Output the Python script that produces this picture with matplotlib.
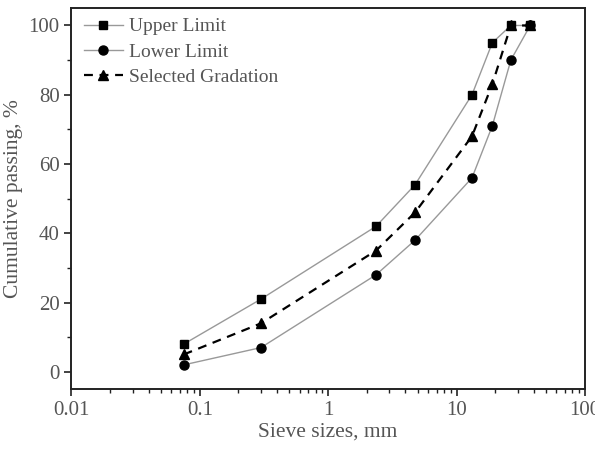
import matplotlib
matplotlib.use("Agg")
from matplotlib import pyplot as plt
from matplotlib.ticker import LogLocator, MultipleLocator, FixedLocator, FixedFormatter

# Sieve sizes (mm) and cumulative passing (%)
sieveSizes = [0.075, 0.3, 2.36, 4.75, 13.2, 19, 26.5, 37.5]
upperLimit = [8, 21, 42, 54, 80, 95, 100, 100]
lowerLimit = [2, 7, 28, 38, 56, 71, 90, 100]
selectedGradation = [5, 14, 35, 46, 68, 83, 100, 100]

xTicks = [0.01, 0.1, 1, 10, 100]
xTickLabels = ["0.01", "0.1", "1", "10", "100"]

textColor = "#555555"

plt.rcParams['font.family'] = ['Liberation Serif', 'DejaVu Serif']

fig = plt.figure(figsize=(5.95, 4.53), dpi=100)
ax = fig.add_axes([0.120, 0.141, 0.863, 0.841])

ax.plot(sieveSizes, upperLimit, color='#999999', linewidth=1,
        marker='s', markersize=6, markerfacecolor='k', markeredgecolor='k',
        label='Upper Limit')
ax.plot(sieveSizes, lowerLimit, color='#999999', linewidth=1,
        marker='o', markersize=6.5, markerfacecolor='k', markeredgecolor='k',
        label='Lower Limit')
ax.plot(sieveSizes, selectedGradation, color='k', linewidth=1.6, linestyle=(0, (4, 3)),
        marker='^', markersize=7, markerfacecolor='k', markeredgecolor='k',
        label='Selected Gradation')

ax.set_xscale('log')
ax.set_xlim(0.01, 100)
ax.set_ylim(-5, 105)

ax.xaxis.set_major_locator(FixedLocator(xTicks))
ax.xaxis.set_major_formatter(FixedFormatter(xTickLabels))

ax.tick_params(which='major', direction='out', length=5, width=1.2,
               labelsize=15, labelcolor=textColor, color='#222222')
ax.tick_params(which='minor', direction='out', length=3, width=1, color='#222222')
ax.minorticks_on()
ax.xaxis.set_minor_locator(LogLocator(base=10, subs=range(2, 10)))
ax.yaxis.set_major_locator(MultipleLocator(20))
ax.yaxis.set_minor_locator(MultipleLocator(10))

for s in ax.spines.values():
    s.set_linewidth(1.4)
    s.set_color('#222222')

ax.set_xlabel("Sieve sizes, mm", fontsize=15.5, color=textColor, labelpad=2)
ax.set_ylabel("Cumulative passing, %", fontsize=15.5, color=textColor, labelpad=4)

# legend sits in the top left corner, no frame
leg = ax.legend(loc='upper left', frameon=False, fontsize=14, handlelength=2.0,
                handletextpad=0.35, labelspacing=0.4, borderaxespad=0.1,
                bbox_to_anchor=(0.005, 1.0))
for t in leg.get_texts():
    t.set_color(textColor)

fig.savefig("out.png", dpi=100)
